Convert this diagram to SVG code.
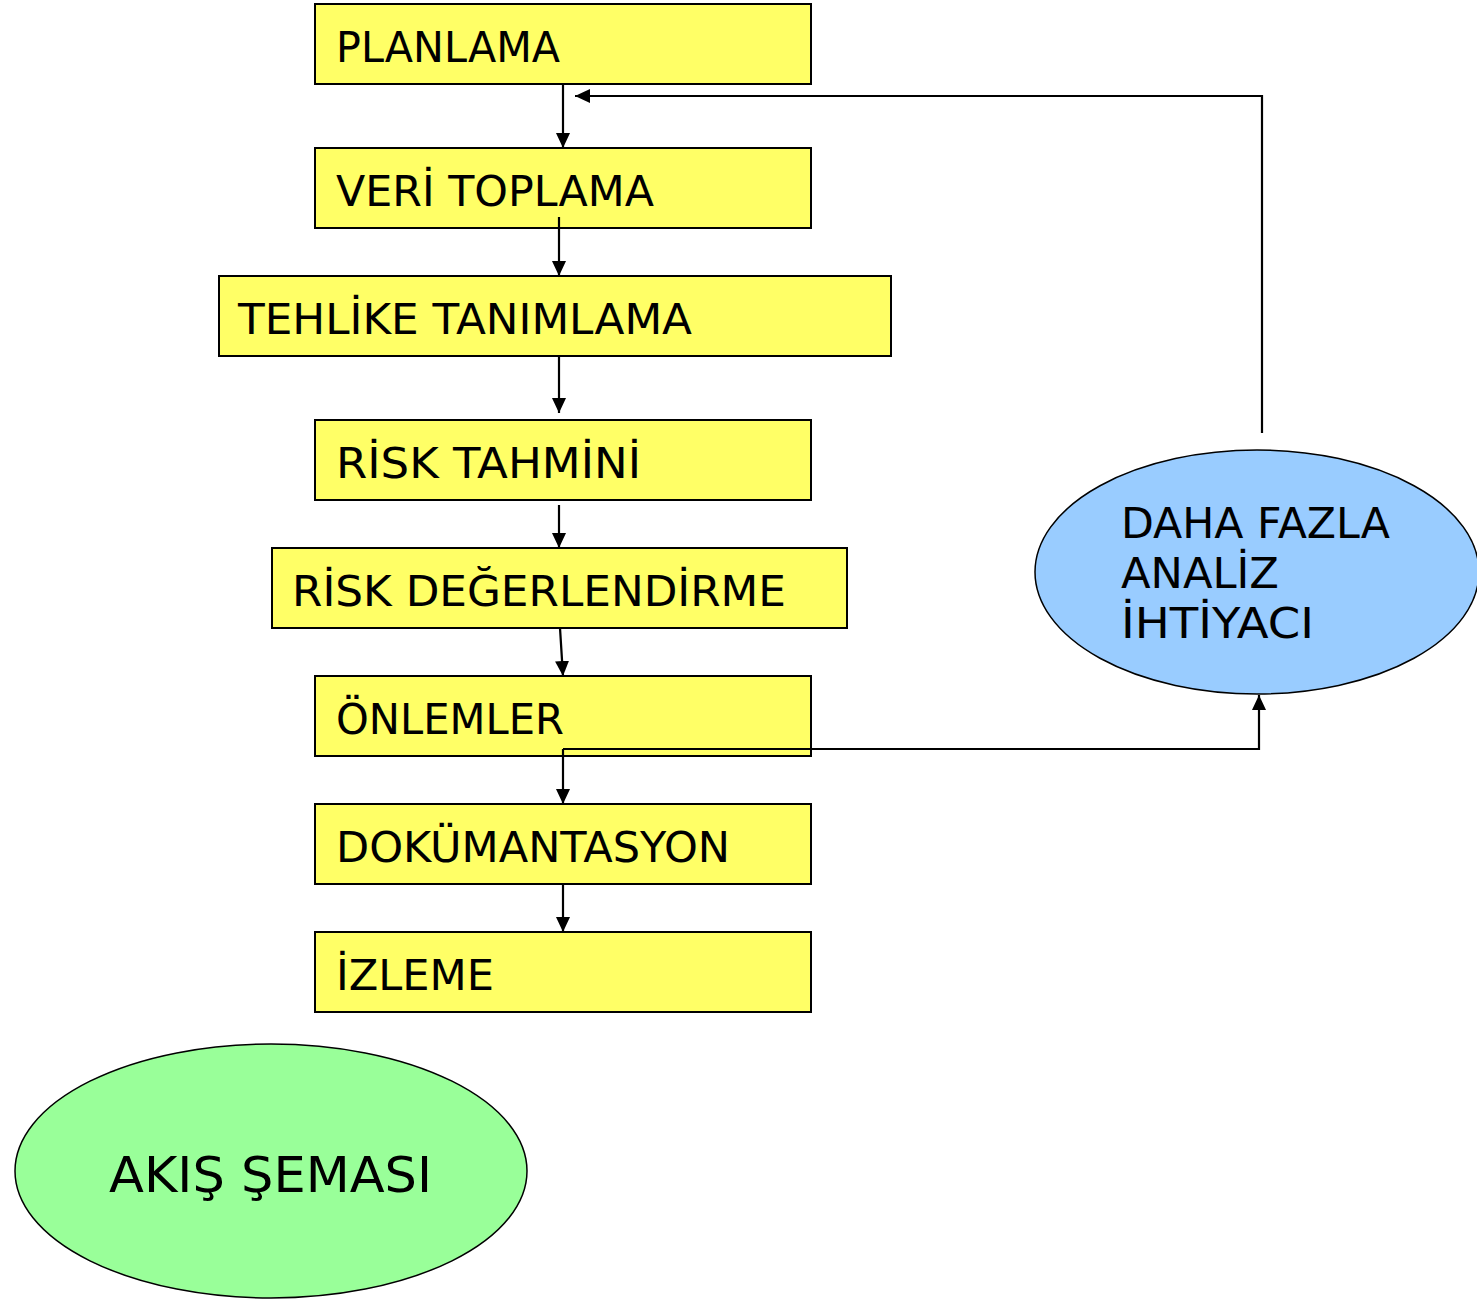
<svg xmlns="http://www.w3.org/2000/svg" width="1477" height="1300" viewBox="0 0 1477 1300">
<style>
.box{fill:#FFFF66;stroke:#000;stroke-width:2}
.t{font-family:"DejaVu Sans","Noto Sans",sans-serif;font-size:43px;fill:#000}
.c{fill:none;stroke:#000;stroke-width:2.2}
</style>
<defs>
<marker id="ah" markerWidth="15" markerHeight="14" refX="15" refY="7" orient="auto" markerUnits="userSpaceOnUse">
<path d="M0,0 L15,7 L0,14 Z" fill="#000"/>
</marker>
</defs>
<rect width="1477" height="1300" fill="#fff"/>
<g id="planlama"><rect class="box" x="315" y="4" width="496" height="80"/><text class="t" x="336" y="62" textLength="224" lengthAdjust="spacingAndGlyphs">PLANLAMA</text></g>
<g id="veri-toplama"><rect class="box" x="315" y="148" width="496" height="80"/><text class="t" x="336" y="206" textLength="318" lengthAdjust="spacingAndGlyphs">VERİ TOPLAMA</text></g>
<g id="tehlike-tanimlama"><rect class="box" x="219" y="276" width="672" height="80"/><text class="t" x="238" y="334" textLength="454" lengthAdjust="spacingAndGlyphs">TEHLİKE TANIMLAMA</text></g>
<g id="risk-tahmini"><rect class="box" x="315" y="420" width="496" height="80"/><text class="t" x="336" y="478" textLength="305" lengthAdjust="spacingAndGlyphs">RİSK TAHMİNİ</text></g>
<g id="risk-degerlendirme"><rect class="box" x="272" y="548" width="575" height="80"/><text class="t" x="292" y="606" textLength="494" lengthAdjust="spacingAndGlyphs">RİSK DEĞERLENDİRME</text></g>
<g id="onlemler"><rect class="box" x="315" y="676" width="496" height="80"/><text class="t" x="336" y="734" textLength="228" lengthAdjust="spacingAndGlyphs">ÖNLEMLER</text></g>
<g id="dokumantasyon"><rect class="box" x="315" y="804" width="496" height="80"/><text class="t" x="336" y="862" textLength="394" lengthAdjust="spacingAndGlyphs">DOKÜMANTASYON</text></g>
<g id="izleme"><rect class="box" x="315" y="932" width="496" height="80"/><text class="t" x="336" y="990" textLength="158" lengthAdjust="spacingAndGlyphs">İZLEME</text></g>
<g id="daha-fazla-analiz">
<ellipse cx="1257" cy="572" rx="222" ry="122" fill="#99CCFF" stroke="#000" stroke-width="1.5"/>
<text class="t" x="1121" y="538" textLength="269" lengthAdjust="spacingAndGlyphs">DAHA FAZLA</text>
<text class="t" x="1121" y="588" textLength="158" lengthAdjust="spacingAndGlyphs">ANALİZ</text>
<text class="t" x="1121" y="638" textLength="193" lengthAdjust="spacingAndGlyphs">İHTİYACI</text>
</g>
<g id="akis-semasi">
<ellipse cx="271" cy="1171" rx="256" ry="127" fill="#99FF99" stroke="#000" stroke-width="1.5"/>
<text class="t" x="109" y="1192" style="font-size:50px" textLength="323" lengthAdjust="spacingAndGlyphs">AKIŞ ŞEMASI</text>
</g>
<g id="connectors">
<line class="c" x1="563" y1="84" x2="563" y2="148" marker-end="url(#ah)"/>
<line class="c" x1="559" y1="217" x2="559" y2="276" marker-end="url(#ah)"/>
<line class="c" x1="559" y1="356" x2="559" y2="413" marker-end="url(#ah)"/>
<line class="c" x1="559" y1="505" x2="559" y2="548" marker-end="url(#ah)"/>
<line class="c" x1="560" y1="628" x2="563" y2="676" marker-end="url(#ah)"/>
<line class="c" x1="563" y1="749" x2="563" y2="804" marker-end="url(#ah)"/>
<polyline class="c" points="563,749 1259,749 1259,695" marker-end="url(#ah)"/>
<line class="c" x1="563" y1="884" x2="563" y2="932" marker-end="url(#ah)"/>
<polyline class="c" points="1262,433 1262,96 575,96" marker-end="url(#ah)"/>
</g>
</svg>
